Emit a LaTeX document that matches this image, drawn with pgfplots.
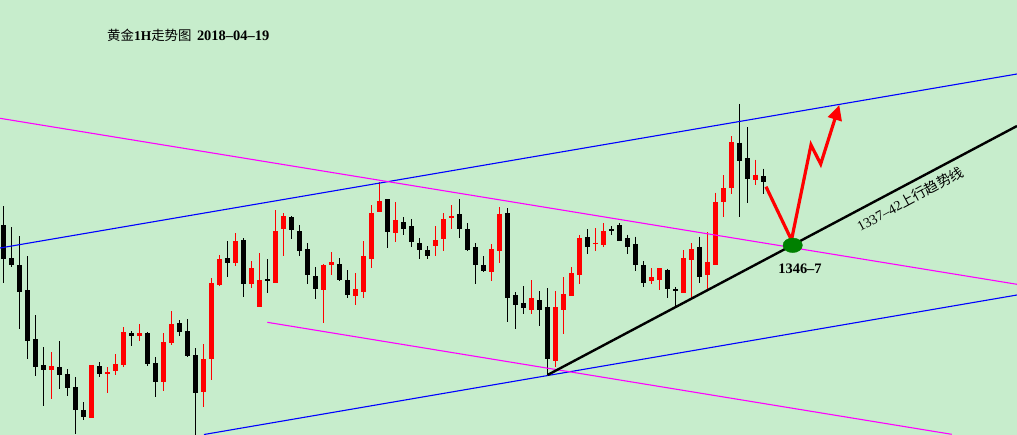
\documentclass[border=0pt]{standalone}
\usepackage{fontspec}
\setmainfont{Liberation Serif}
\newfontfamily\cjk{Noto Sans CJK SC}
\usepackage{pgfplots}
\pgfplotsset{compat=1.18}
\usepackage{pgfplotstable}
\usetikzlibrary{arrows.meta}
\definecolor{bg}{HTML}{C7EDCC}
\definecolor{dkgreen}{HTML}{008000}
\definecolor{mag}{RGB}{255,0,255}
\definecolor{blu}{RGB}{0,0,255}
\definecolor{rd}{RGB}{255,0,0}

% x  high  bodytop  bodybottom  low   (pixel rows, y downwards)
\pgfplotstableread{
x ht bt bb lw
51.3 352 366 370 398.7
91.3 365 365 417.7 417.7
107.3 367 372 373.7 392.7
115.3 354 364 370.7 374.7
123.3 327 332 364.7 366.7
139.3 324 333 335.7 340.7
163.3 333 342 381.7 390.7
171.3 311 324 343 344.7
203.3 344 359 391.7 406.7
211.3 278 283 358.7 379.7
219.3 255 259 285 286
235.3 233 241 262.7 265.7
251.3 261 268 283.7 287.7
259.3 253 280 306.7 306.7
275.3 210 231 282.7 282.7
283.3 213.3 216 228.7 255.7
323.3 264 265 289.7 322.7
331.3 252 262 264.7 274.7
355.3 273 289 295.7 304.7
363.3 241 256 291.7 297.7
371.3 205 213 258.7 267.7
379.3 182 201 211.7 211.7
395.3 202 220 232.7 241.7
435.3 226 240 245.7 255.7
443.3 213 219 238.7 250.7
451.3 205 216 217.7 228.7
491.3 244 249 271.7 280.7
499.3 207 214 250.7 262.7
531.3 280 298 309.7 313.7
555.3 291 307 361 366.7
563.3 277.3 294 309.7 333.7
571.3 267 273 295.7 295.7
579.3 235 238 274.7 283.7
595.3 228 242.7 244.3 250.7
603.3 223 231 244.7 246.7
651.3 268 277.3 280.7 283.7
659.3 268 268 279.7 289.7
683.3 250 258 292.7 292.7
691.3 243.3 249 259.7 297.7
707.3 232 261.7 274.7 289
715.3 192.7 202 264.7 264.7
723.3 175 188 201.7 216.7
731.3 136 142 187.7 193.7
755.3 159.7 174.7 179.7 184.7
}\redc

\pgfplotstableread{
x ht bt bb lw
3.3 206 225 259 282.7
11.3 227 258 264.7 266.7
19.3 236 265 291.7 328.7
27.3 256 290 340.7 358.7
35.3 315 339 366.7 375.7
43.3 347 365 370 405.7
59.3 341 367 374.7 389
67.3 369 374 387.7 395.7
75.3 377 387 409.7 433.7
83.3 402 410 416.7 420
99.3 362.3 366 373.7 376.7
131.3 331 333 335.7 345.7
147.3 332 333 363.7 365.7
155.3 357 363 381.7 396.7
179.3 320 323 331.7 335.7
187.3 319 331 355.7 356.7
195.3 348 355 392.7 440
227.3 241 258 262.7 277
243.3 238 240 283.7 296.7
267.3 259 279 280.7 292.7
291.3 216 217 229.7 238.7
299.3 225.3 231 250.7 255.7
307.3 243 249 274.7 283.7
315.3 267 276 288.7 298.7
339.3 258 264 279.7 280.7
347.3 270 280 294.7 297.7
387.3 199 199 231.7 247.7
403.3 217 222 228.7 234.7
411.3 219 226 241.7 246.7
419.3 238 243 249.7 258.7
427.3 246 250 255.7 258.7
459.3 199 214 228.7 237.7
467.3 223 229 249.7 250.7
475.3 243 247 264.7 283.7
483.3 256 265 270.7 272
507.3 208 213 297.7 321.7
515.3 292 295.3 304.7 328.7
523.3 286.3 303 308 313.7
539.3 291 300 309.7 325.7
547.3 288 307 358.7 375.3
587.3 229 237 246.7 253.7
611.3 226 229 231.3 235
619.3 223 225 240.7 240.7
627.3 234.7 238 246.7 253.7
635.3 236.7 244 264.7 270.7
643.3 261 265 282.7 287
667.3 268.7 270 288.7 297.7
675.3 287 289 291.3 306.7
699.3 236.7 247 277 283
739.3 104 142.7 160.7 216.7
747.3 127 158 179 202.7
763.3 168.7 176 181.7 193.7
}\blackc

\begin{document}
\begin{tikzpicture}
\fill[bg] (0,0) rectangle (1017bp,435bp);
\begin{axis}[
  scale only axis, width=1017bp, height=435bp,
  xmin=0, xmax=1017, ymin=0, ymax=435, y dir=reverse,
  hide axis, clip=true,
]
% wicks
\addplot[draw=none, no markers, forget plot,
  error bars/.cd, y dir=plus, y explicit, error mark=none,
  error bar style={draw=rd, line width=1.2bp}]
  table[x=x, y=ht, y error plus expr=\thisrow{lw}-\thisrow{ht}] {\redc};
\addplot[draw=none, no markers, forget plot,
  error bars/.cd, y dir=plus, y explicit, error mark=none,
  error bar style={draw=black, line width=1.2bp}]
  table[x=x, y=ht, y error plus expr=\thisrow{lw}-\thisrow{ht}] {\blackc};
% bodies
\addplot[draw=none, no markers, forget plot,
  error bars/.cd, y dir=plus, y explicit, error mark=none,
  error bar style={draw=rd, line width=5bp}]
  table[x=x, y=bt, y error plus expr={max(\thisrow{bb}-\thisrow{bt},1.6)}] {\redc};
\addplot[draw=none, no markers, forget plot,
  error bars/.cd, y dir=plus, y explicit, error mark=none,
  error bar style={draw=black, line width=5bp}]
  table[x=x, y=bt, y error plus expr={max(\thisrow{bb}-\thisrow{bt},1.6)}] {\blackc};

% channel lines
\addplot[blu, line width=1.1bp] coordinates {(0,248) (1017,74)};
\addplot[blu, line width=1.1bp] coordinates {(204,434.5) (1017,295)};
\addplot[mag, line width=1.1bp] coordinates {(0,118.3) (1017,284.3)};
\addplot[mag, line width=1.1bp] coordinates {(267.3,322.3) (951.7,434.3)};
% uptrend line
\addplot[black, line width=2.4bp] coordinates {(547.5,375) (1017,126)};
% red arrow path
\addplot[rd, line width=3.2bp, line join=miter,
  -{Triangle[width=14bp,length=15bp]}]
  coordinates {(766,186.7) (791.5,240) (811,145) (820.7,164) (839.3,105)};
% green ellipse
\addplot[only marks, mark=*, mark size=7.3bp,
  mark options={draw=dkgreen, fill=dkgreen, xscale=1.33}]
  coordinates {(792.7,245.3)};

\node[anchor=west, inner sep=0pt, font=\fontsize{13.5}{15}\selectfont] at (axis cs:107,35)
  {{\cjk 黄金}\textbf{1H}{\cjk 走势图}\hspace{0.4em}{\fontsize{14.5}{15}\selectfont\textbf{2018--04--19}}};
\node[font=\fontsize{14.5}{16}\selectfont\bfseries] at (axis cs:800,269) {1346--7};
\node[rotate=28.5, font=\fontsize{14}{16}\selectfont] at (axis cs:910,199)
  {1337--42{\cjk 上行趋势线}};
\end{axis}
\end{tikzpicture}
\end{document}
